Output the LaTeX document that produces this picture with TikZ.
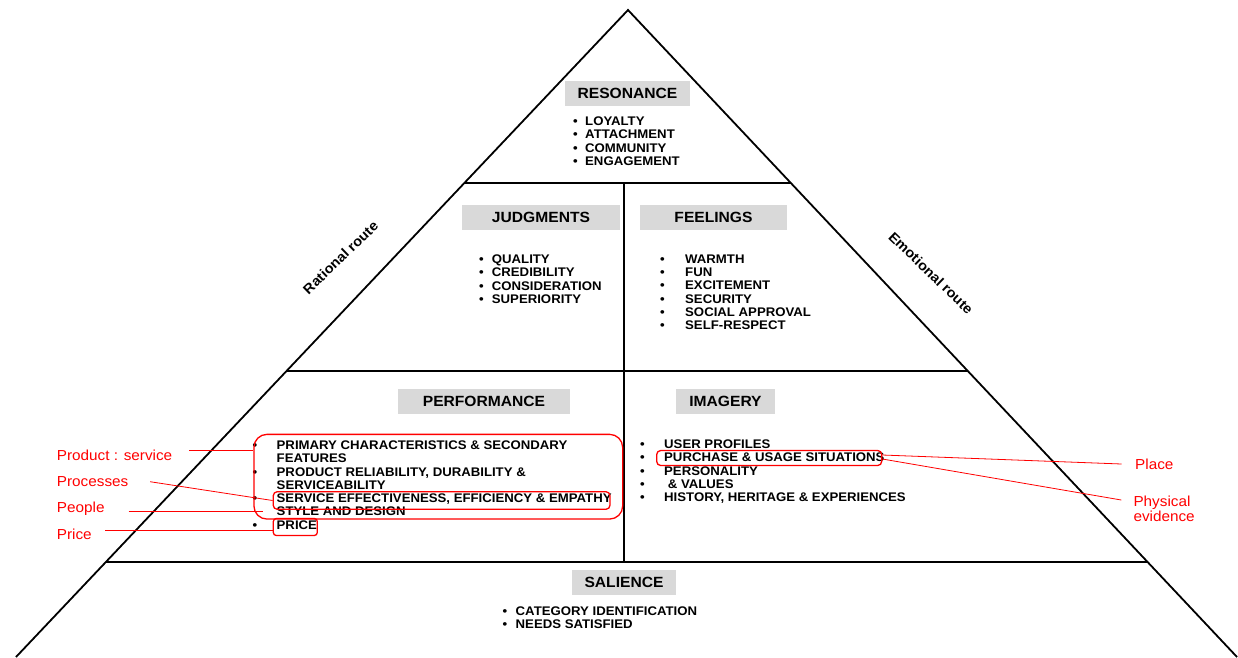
\documentclass[tikz,border=0pt]{standalone}
\usepackage{fontspec}
\setmainfont[FakeStretch=1.055]{Liberation Sans}
\usetikzlibrary{positioning}
\newcommand\itm[1]{\makebox[#1][l]{\textbullet}}

\begin{document}
\begin{tikzpicture}[x=1pt,y=-1pt,
  wall/.style={draw=black,line width=1.8pt},
  head/.style={fill=black!15,minimum height=25pt,inner sep=0pt,font=\fontsize{14.8}{17}\selectfont\bfseries},
  items/.style={anchor=north west,inner sep=0pt,align=left,font=\fontsize{12.5}{13.3}\selectfont\bfseries},
  route/.style={inner sep=0pt,font=\fontsize{13.8}{16}\selectfont\bfseries},
  note/.style={anchor=west,inner sep=0pt,align=left,text=red,font=\fontsize{14.5}{15.5}\selectfont},
  redbox/.style={draw=red,line width=1.3pt,inner sep=0pt,rounded corners=#1},
  lead/.style={draw=red,line width=0.8pt}]
\useasboundingbox (0,0) rectangle (1238,657);

% pyramid outline
\coordinate (apex) at (628,10);
\coordinate (bl) at (16,657);
\coordinate (br) at (1237,657);
\draw[wall] (bl) -- (apex) -- (br);
\draw[wall] (464.4,183) -- (790.8,183);
\draw[wall] (286.5,371) -- (967.8,371);
\draw[wall,line width=2.6pt] (105.9,562) -- (1147.6,562);
\draw[wall] (624,183) -- (624,562);

% block titles
\node[head,minimum width=125pt] (res) at (627.5,93.5) {RESONANCE};
\node[head,minimum width=158pt] (jud) at (541,217) {JUDGMENTS};
\node[head,minimum width=147pt] (fee) at (713.5,217) {FEELINGS};
\node[head,minimum width=172pt] (perf) at (484,401.5) {PERFORMANCE};
\node[head,minimum width=99pt] (img) at (725.5,401.5) {IMAGERY};
\node[head,minimum width=104pt] (sal) at (624,582.5) {SALIENCE};

% block contents
\node[items] (reslist) at (573,116.5) {\itm{12pt}LOYALTY\\\itm{12pt}ATTACHMENT\\\itm{12pt}COMMUNITY\\\itm{12pt}ENGAGEMENT};
\node[items] (judlist) at (479,254.5) {\itm{12.7pt}QUALITY\\\itm{12.7pt}CREDIBILITY\\\itm{12.7pt}CONSIDERATION\\\itm{12.7pt}SUPERIORITY};
\node[items] (feelist) at (660,254.5) {\itm{25pt}WARMTH\\\itm{25pt}FUN\\\itm{25pt}EXCITEMENT\\\itm{25pt}SECURITY\\\itm{25pt}SOCIAL APPROVAL\\\itm{25pt}SELF-RESPECT};
\node[items] (perflist) at (252.5,440.5) {\itm{24pt}PRIMARY CHARACTERISTICS \& SECONDARY\\\makebox[24pt]{}FEATURES\\\itm{24pt}PRODUCT RELIABILITY, DURABILITY \&\\\makebox[24pt]{}SERVICEABILITY\\\itm{24pt}SERVICE EFFECTIVENESS, EFFICIENCY \& EMPATHY\\\makebox[24pt]{}STYLE AND DESIGN\\\itm{24pt}PRICE};
\node[items] (imglist) at (640,439.5) {\itm{24pt}USER PROFILES\\\itm{24pt}PURCHASE \& USAGE SITUATIONS\\\itm{24pt}PERSONALITY\\\itm{24pt}\ \& VALUES\\\itm{24pt}HISTORY, HERITAGE \& EXPERIENCES};
\node[items] (sallist) at (502.5,606.5) {\itm{13pt}CATEGORY IDENTIFICATION\\\itm{13pt}NEEDS SATISFIED};

% routes
\node[route,rotate=44] (rational) at (340.5,257.5) {Rational route};
\node[route,rotate=-44] (emotional) at (931,273) {Emotional route};

% red marks
\node[redbox=13pt,minimum width=368.7pt,minimum height=84.7pt] (perfbox) at (438.3,476.7) {};
\node[redbox=4pt,minimum width=336.7pt,minimum height=17.6pt] (svcbox) at (441.6,500.5) {};
\node[redbox=3pt,minimum width=44pt,minimum height=17pt] (pricebox) at (295.3,527) {};
\node[redbox=4pt,minimum width=225pt,minimum height=15pt] (buybox) at (769.2,458) {};

\node[note] (prod) at (56.7,455) {Product : service};
\node[note] (proc) at (56.7,481.7) {Processes};
\node[note] (ppl) at (56.7,508.3) {People};
\node[note] (price) at (56.7,534) {Price};
\node[note] (place) at (1135,464) {Place};
\node[note] (phys) at (1133.3,509) {Physical\\evidence};

\coordinate[above right=5pt and 16.6pt of prod.east] (prodend);
\coordinate[right=21.6pt of proc.east] (procend);
\coordinate[below right=2.7pt and 23.8pt of ppl.east] (pplend);
\coordinate[above right=4pt and 13.3pt of price.east] (priceend);
\coordinate[left=13.3pt of place.west] (placeend);
\coordinate[above left=9pt and 12pt of phys.west] (physend);

\draw[lead] (prodend) -- (prodend -| perfbox.west);
\draw[lead] (procend) -- (svcbox.west);
\draw[lead,shorten >=10pt] (pplend) -- (pplend -| svcbox.west);
\draw[lead] (priceend) -- (priceend -| pricebox.west);
\draw[lead] ([yshift=3pt]buybox.east) -- (placeend);
\draw[lead] ([yshift=-1pt]buybox.east) -- (physend);
\end{tikzpicture}
\end{document}
